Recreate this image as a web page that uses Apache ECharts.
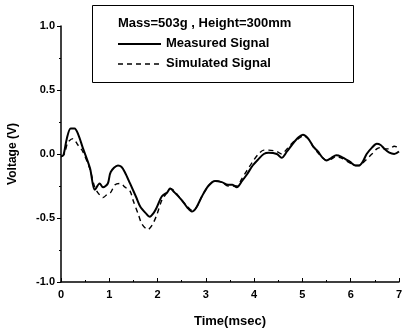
<!DOCTYPE html>
<html>
<head>
<meta charset="utf-8">
<script src="https://cdn.jsdelivr.net/npm/echarts@6/dist/echarts.min.js"></script>
<style>
  html, body { margin: 0; padding: 0; background: #fff; }
  #chart { width: 403px; height: 336px; }
</style>
</head>
<body>
<div id="chart"></div>
<script>
// time (msec) / voltage (V)
const measuredT = [0, 0.05, 0.12, 0.2, 0.28, 0.36, 0.45, 0.6, 0.7, 0.8, 0.87, 0.97, 1.03, 1.18, 1.25, 1.32, 1.43, 1.56, 1.64, 1.75, 1.84, 1.92, 1.98, 2.09, 2.2, 2.26, 2.35, 2.5, 2.62, 2.71, 2.8, 2.92, 3.05, 3.19, 3.33, 3.46, 3.55, 3.64, 3.75, 3.85, 3.97, 4.09, 4.2, 4.3, 4.47, 4.57, 4.68, 4.8, 4.92, 5.01, 5.12, 5.22, 5.32, 5.42, 5.5, 5.6, 5.7, 5.8, 5.98, 6.1, 6.17, 6.25, 6.33, 6.44, 6.54, 6.62, 6.7, 6.8, 6.9, 7.0]
const measuredV = [-0.02, -0.01, 0.12, 0.2, 0.2, 0.15, 0.05, -0.11, -0.28, -0.23, -0.26, -0.23, -0.14, -0.09, -0.1, -0.14, -0.23, -0.34, -0.41, -0.46, -0.49, -0.46, -0.42, -0.33, -0.3, -0.27, -0.3, -0.36, -0.42, -0.45, -0.42, -0.33, -0.25, -0.21, -0.22, -0.24, -0.24, -0.26, -0.21, -0.16, -0.09, -0.04, 0.0, 0.01, 0.0, -0.03, 0.02, 0.08, 0.13, 0.15, 0.12, 0.06, 0.02, -0.03, -0.05, -0.03, -0.01, -0.02, -0.06, -0.09, -0.09, -0.06, 0.0, 0.05, 0.08, 0.07, 0.04, 0.01, 0.0, 0.02]

const simulatedT = [0, 0.07, 0.14, 0.25, 0.35, 0.45, 0.6, 0.7, 0.8, 0.87, 0.97, 1.03, 1.12, 1.22, 1.33, 1.43, 1.5, 1.6, 1.68, 1.8, 1.88, 1.98, 2.09, 2.2, 2.26, 2.35, 2.5, 2.62, 2.71, 2.8, 2.92, 3.05, 3.19, 3.33, 3.46, 3.55, 3.64, 3.75, 3.85, 3.97, 4.09, 4.2, 4.3, 4.47, 4.57, 4.68, 4.8, 4.92, 5.01, 5.12, 5.22, 5.32, 5.42, 5.5, 5.6, 5.7, 5.8, 5.98, 6.1, 6.17, 6.25, 6.33, 6.44, 6.54, 6.62, 6.7, 6.8, 6.9, 7.0]
const simulatedV = [-0.02, 0.0, 0.09, 0.12, 0.07, 0.02, -0.12, -0.26, -0.32, -0.34, -0.31, -0.3, -0.24, -0.23, -0.26, -0.29, -0.37, -0.47, -0.55, -0.59, -0.56, -0.48, -0.36, -0.3, -0.27, -0.29, -0.36, -0.41, -0.44, -0.42, -0.33, -0.25, -0.21, -0.22, -0.25, -0.25, -0.25, -0.19, -0.13, -0.06, 0.0, 0.03, 0.03, 0.02, 0.0, 0.04, 0.09, 0.12, 0.14, 0.12, 0.06, 0.01, -0.03, -0.05, -0.04, -0.02, -0.03, -0.07, -0.09, -0.09, -0.07, -0.04, 0.0, 0.04, 0.05, 0.04, 0.04, 0.06, 0.05]

const legendTitle = 'Mass=503g , Height=300mm'
const seriesNames = ['Measured Signal', 'Simulated Signal']

const font = 'Liberation Sans, Arial, sans-serif'
const zip = (a, b) => a.map((x, i) => [x, b[i]])

let chart = echarts.init(document.getElementById('chart'))
chart.setOption({
  animation: false,
  grid: { left: 61, right: 4, top: 26, bottom: 54, outerBoundsMode: 'none' },
  xAxis: {
    type: 'value',
    min: 0,
    max: 7,
    interval: 1,
    name: 'Time(msec)',
    nameLocation: 'middle',
    nameGap: 33,
    nameTextStyle: { fontFamily: font, fontWeight: 'bold', fontSize: 13, color: '#000' },
    axisLine: { onZero: false, lineStyle: { color: '#000', width: 1.5 } },
    axisTick: { inside: true, length: 4, lineStyle: { color: '#000' } },
    minorTick: { show: true, splitNumber: 2, length: 2, lineStyle: { color: '#000' } },
    axisLabel: { margin: 7, fontFamily: font, fontWeight: 'bold', fontSize: 11, color: '#000' },
    splitLine: { show: false }
  },
  yAxis: {
    type: 'value',
    min: -1,
    max: 1,
    interval: 0.5,
    name: 'Voltage (V)',
    nameLocation: 'middle',
    nameGap: 42,
    nameTextStyle: { fontFamily: font, fontWeight: 'bold', fontSize: 12, color: '#000' },
    axisLine: { onZero: false, lineStyle: { color: '#000', width: 1.5 } },
    axisTick: { length: 4, lineStyle: { color: '#000' } },
    minorTick: { show: true, splitNumber: 2, length: 2, lineStyle: { color: '#000' } },
    axisLabel: {
      margin: 6, fontFamily: font, fontWeight: 'bold', fontSize: 11, color: '#000',
      formatter: v => v.toFixed(1)
    },
    splitLine: { show: false }
  },
  graphic: [
    {
      type: 'rect', left: 92, top: 5,
      shape: { width: 261, height: 77 },
      style: { fill: '#fff', stroke: '#000', lineWidth: 1 }, z: 10
    },
    {
      type: 'text', left: 118, top: 17, z: 11,
      style: { text: legendTitle, font: 'bold 13px ' + font, fill: '#000' }
    },
    {
      type: 'line', z: 11,
      shape: { x1: 118, y1: 44, x2: 161, y2: 44 },
      style: { stroke: '#000', lineWidth: 1.8 }
    },
    {
      type: 'text', left: 166, top: 37, z: 11,
      style: { text: seriesNames[0], font: 'bold 13px ' + font, fill: '#000' }
    },
    {
      type: 'line', z: 11,
      shape: { x1: 118, y1: 64, x2: 161, y2: 64 },
      style: { stroke: '#000', lineWidth: 1.3, lineDash: [5, 4] }
    },
    {
      type: 'text', left: 166, top: 57, z: 11,
      style: { text: seriesNames[1], font: 'bold 13px ' + font, fill: '#000' }
    }
  ],
  series: [
    {
      name: seriesNames[1],
      type: 'line',
      data: zip(simulatedT, simulatedV),
      showSymbol: false,
      smooth: 0.3,
      lineStyle: { color: '#000', width: 1.4, type: [5, 4] }
    },
    {
      name: seriesNames[0],
      type: 'line',
      data: zip(measuredT, measuredV),
      showSymbol: false,
      smooth: 0.3,
      lineStyle: { color: '#000', width: 2 }
    }
  ]
})
</script>
</body>
</html>
